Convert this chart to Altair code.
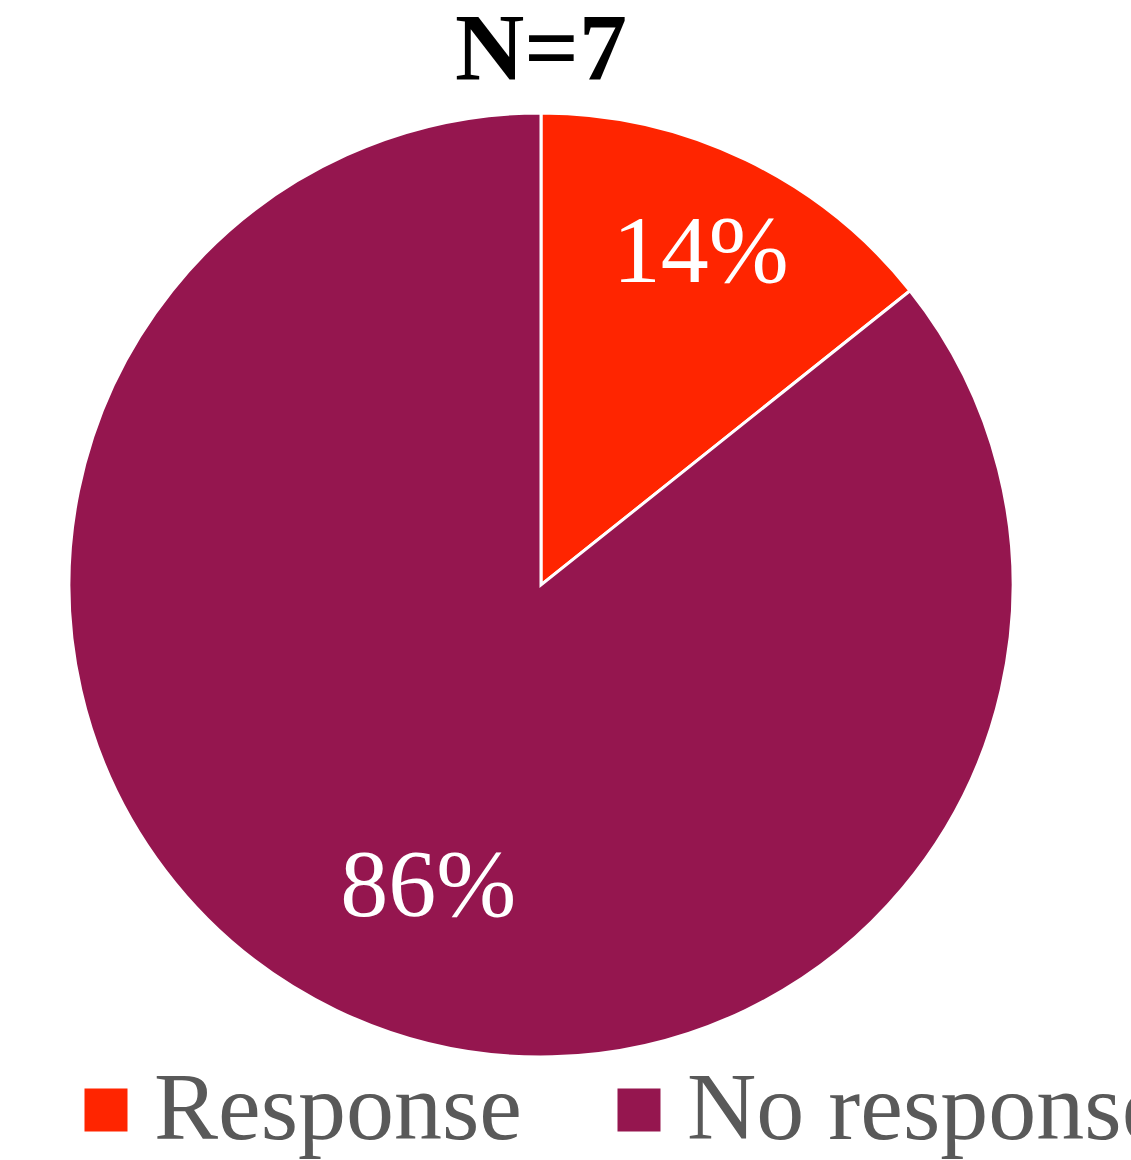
import altair as alt
import pandas as pd

categories = ["Response", "No response"]
values = [1, 6]
labels = ["14%", "86%"]
colors = ["#FF2500", "#95164F"]

FONT = "'Liberation Serif', 'Times New Roman', Tinos, 'Nimbus Roman', Times, serif"

df = pd.DataFrame({"category": categories, "value": values, "label": labels})

base = alt.Chart(df).encode(
    theta=alt.Theta("value:Q", stack=True),
    order=alt.Order("order:Q"),
).transform_calculate(order="indexof(['Response','No response'], datum.category)")

pie = base.mark_arc(outerRadius=472, stroke="white", strokeWidth=3).encode(
    color=alt.Color(
        "category:N",
        scale=alt.Scale(domain=categories, range=colors),
        sort=categories,
        legend=alt.Legend(
            title=None,
            orient="none",
            direction="horizontal",
            legendX=58,
            legendY=962,
            symbolType="square",
            symbolSize=1850,
            symbolStrokeWidth=0,
            labelFont=FONT,
            labelFontSize=96,
            labelColor="#595959",
            labelOffset=0,
            columnPadding=69,
            labelLimit=0,
        ),
    )
)

txt1 = base.mark_text(
    radius=368, font=FONT, fontSize=96, color="white"
).encode(text="label:N", opacity=alt.condition("datum.category == 'Response'", alt.value(1), alt.value(0)))

txt2 = base.mark_text(
    radius=320, font=FONT, fontSize=96, color="white", dx=26, dy=14
).encode(text="label:N", opacity=alt.condition("datum.category == 'No response'", alt.value(1), alt.value(0)))

chart = (
    alt.layer(pie, txt1, txt2)
    .properties(
        width=1082,
        height=970,
        title=alt.TitleParams(
            "N=7",
            font=FONT,
            fontSize=96,
            fontWeight="bold",
            color="black",
            anchor="middle",
            offset=0,
        ),
        autosize=alt.AutoSizeParams(type="none"),
        padding={"left": 0, "top": 100, "right": 49, "bottom": 90},
    )
    .configure_view(stroke=None)
)

chart.save("out.html", embed_options={"renderer": "svg", "actions": False})
